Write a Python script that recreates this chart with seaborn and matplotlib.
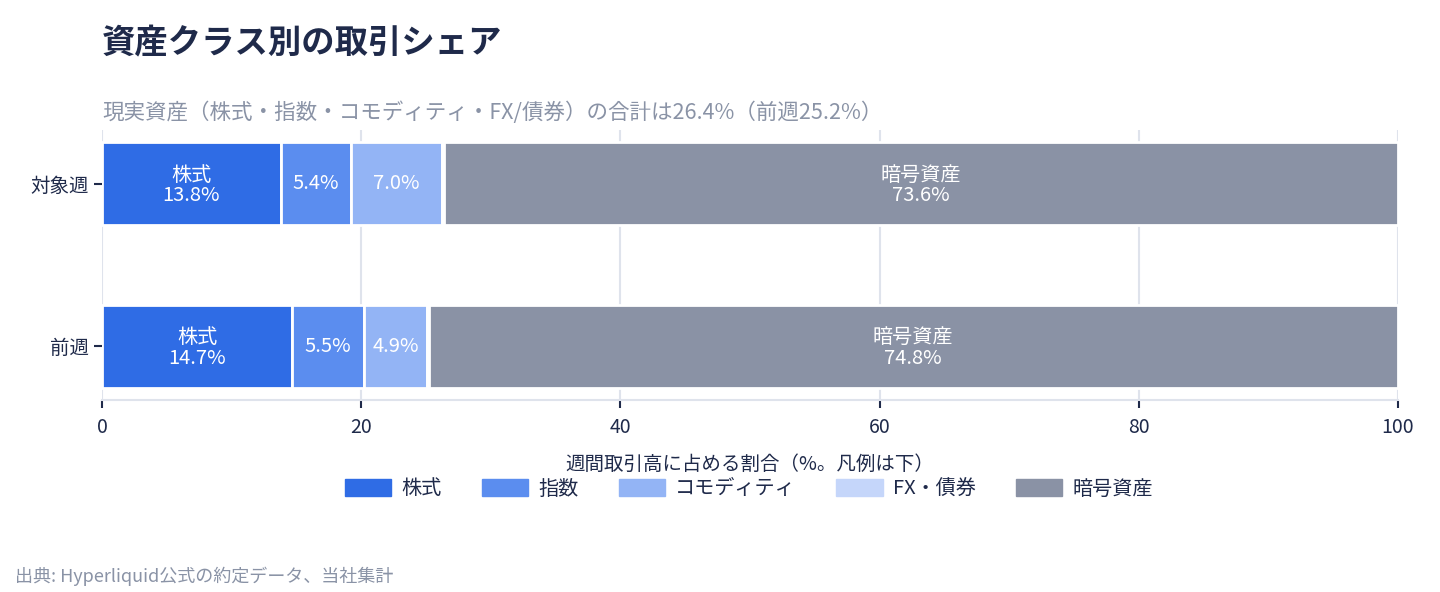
import matplotlib
matplotlib.use("Agg")
import matplotlib.pyplot as plt
import seaborn as sns
import pandas as pd
import numpy as np

# --- data ---
weeks = ["対象週", "前週"]
classes = ["株式", "指数", "コモディティ", "FX・債券", "暗号資産"]
kabu = [13.8, 14.7]
shisu = [5.4, 5.5]
commodity = [7.0, 4.9]
fx_bond = [0.2, 0.1]
crypto = [73.6, 74.8]
colors = ["#2f6ce5", "#5b8def", "#93b4f5", "#c5d6fa", "#8a92a5"]

title = "資産クラス別の取引シェア"
subtitle = "現実資産（株式・指数・コモディティ・FX/債券）の合計は26.4%（前週25.2%）"
xlabel = "週間取引高に占める割合（%。凡例は下）"
source = "出典: Hyperliquid公式の約定データ、当社集計"

sns.set_theme(style="white")
plt.rcParams["font.family"] = ["Noto Sans CJK JP", "DejaVu Sans"]

dark = "#1f2a4a"
grey = "#8a93a6"
gridc = "#dfe3ec"

fig = plt.figure(figsize=(14.4, 5.92), dpi=100)
ax = fig.add_axes([0.0708, 0.3243, 0.9, 0.4561])

# stacked bars, one seaborn call per asset class
series = [kabu, shisu, commodity, fx_bond, crypto]
left = np.zeros(len(weeks))
handles = []
for name, vals, col in zip(classes, series, colors):
    df = pd.DataFrame({"week": weeks, "share": vals})
    sns.barplot(data=df, x="share", y="week", orient="h", color=col,
                saturation=1, width=0.51, left=left.copy(),
                edgecolor="white", linewidth=2, ax=ax, zorder=2)
    handles.append(plt.Rectangle((0, 0), 1, 1, color=col, label=name))
    for i, v in enumerate(vals):
        cx = left[i] + v / 2
        if name in ("株式", "暗号資産"):
            ax.text(cx, i + 0.01, f"{name}\n{v:.1f}%", ha="center", va="center",
                    color="white", fontsize=14.5, linespacing=0.95, zorder=3)
        elif v >= 2:
            ax.text(cx, i, f"{v:.1f}%", ha="center", va="center",
                    color="white", fontsize=14.5, zorder=3)
    left += np.array(vals)

ax.set_xlim(0, 100)
ax.set_ylim(1.33, -0.33)
ax.set_xticks([0, 20, 40, 60, 80, 100])
ax.grid(axis="x", color=gridc, linewidth=1.5, zorder=0)
ax.set_axisbelow(True)
for s in ["top", "right", "left"]:
    ax.spines[s].set_visible(False)
ax.spines["bottom"].set_color(gridc)
ax.spines["bottom"].set_linewidth(1.5)
ax.tick_params(axis="both", colors=dark, labelsize=14, length=6, width=1.5,
               bottom=True, left=True)
ax.tick_params(axis="x", pad=6)
ax.set_ylabel("")
ax.set_xlabel(xlabel, fontsize=14, color=dark, labelpad=12)

fig.text(0.0708, 0.925, title, fontsize=24, fontweight="bold", color=dark,
         ha="left", va="center")
fig.text(0.0708, 0.81, subtitle, fontsize=15.5, color=grey, ha="left", va="center")
fig.text(0.0104, 0.027, source, fontsize=13, color=grey, ha="left", va="center")

leg = fig.legend(handles=handles, loc="center", bbox_to_anchor=(0.52, 0.174),
                 ncol=5, frameon=False, fontsize=14.5, handlelength=2.3,
                 handleheight=0.85, handletextpad=0.5, columnspacing=2.0)
for t in leg.get_texts():
    t.set_color(dark)

fig.savefig("out.png", dpi=100)
